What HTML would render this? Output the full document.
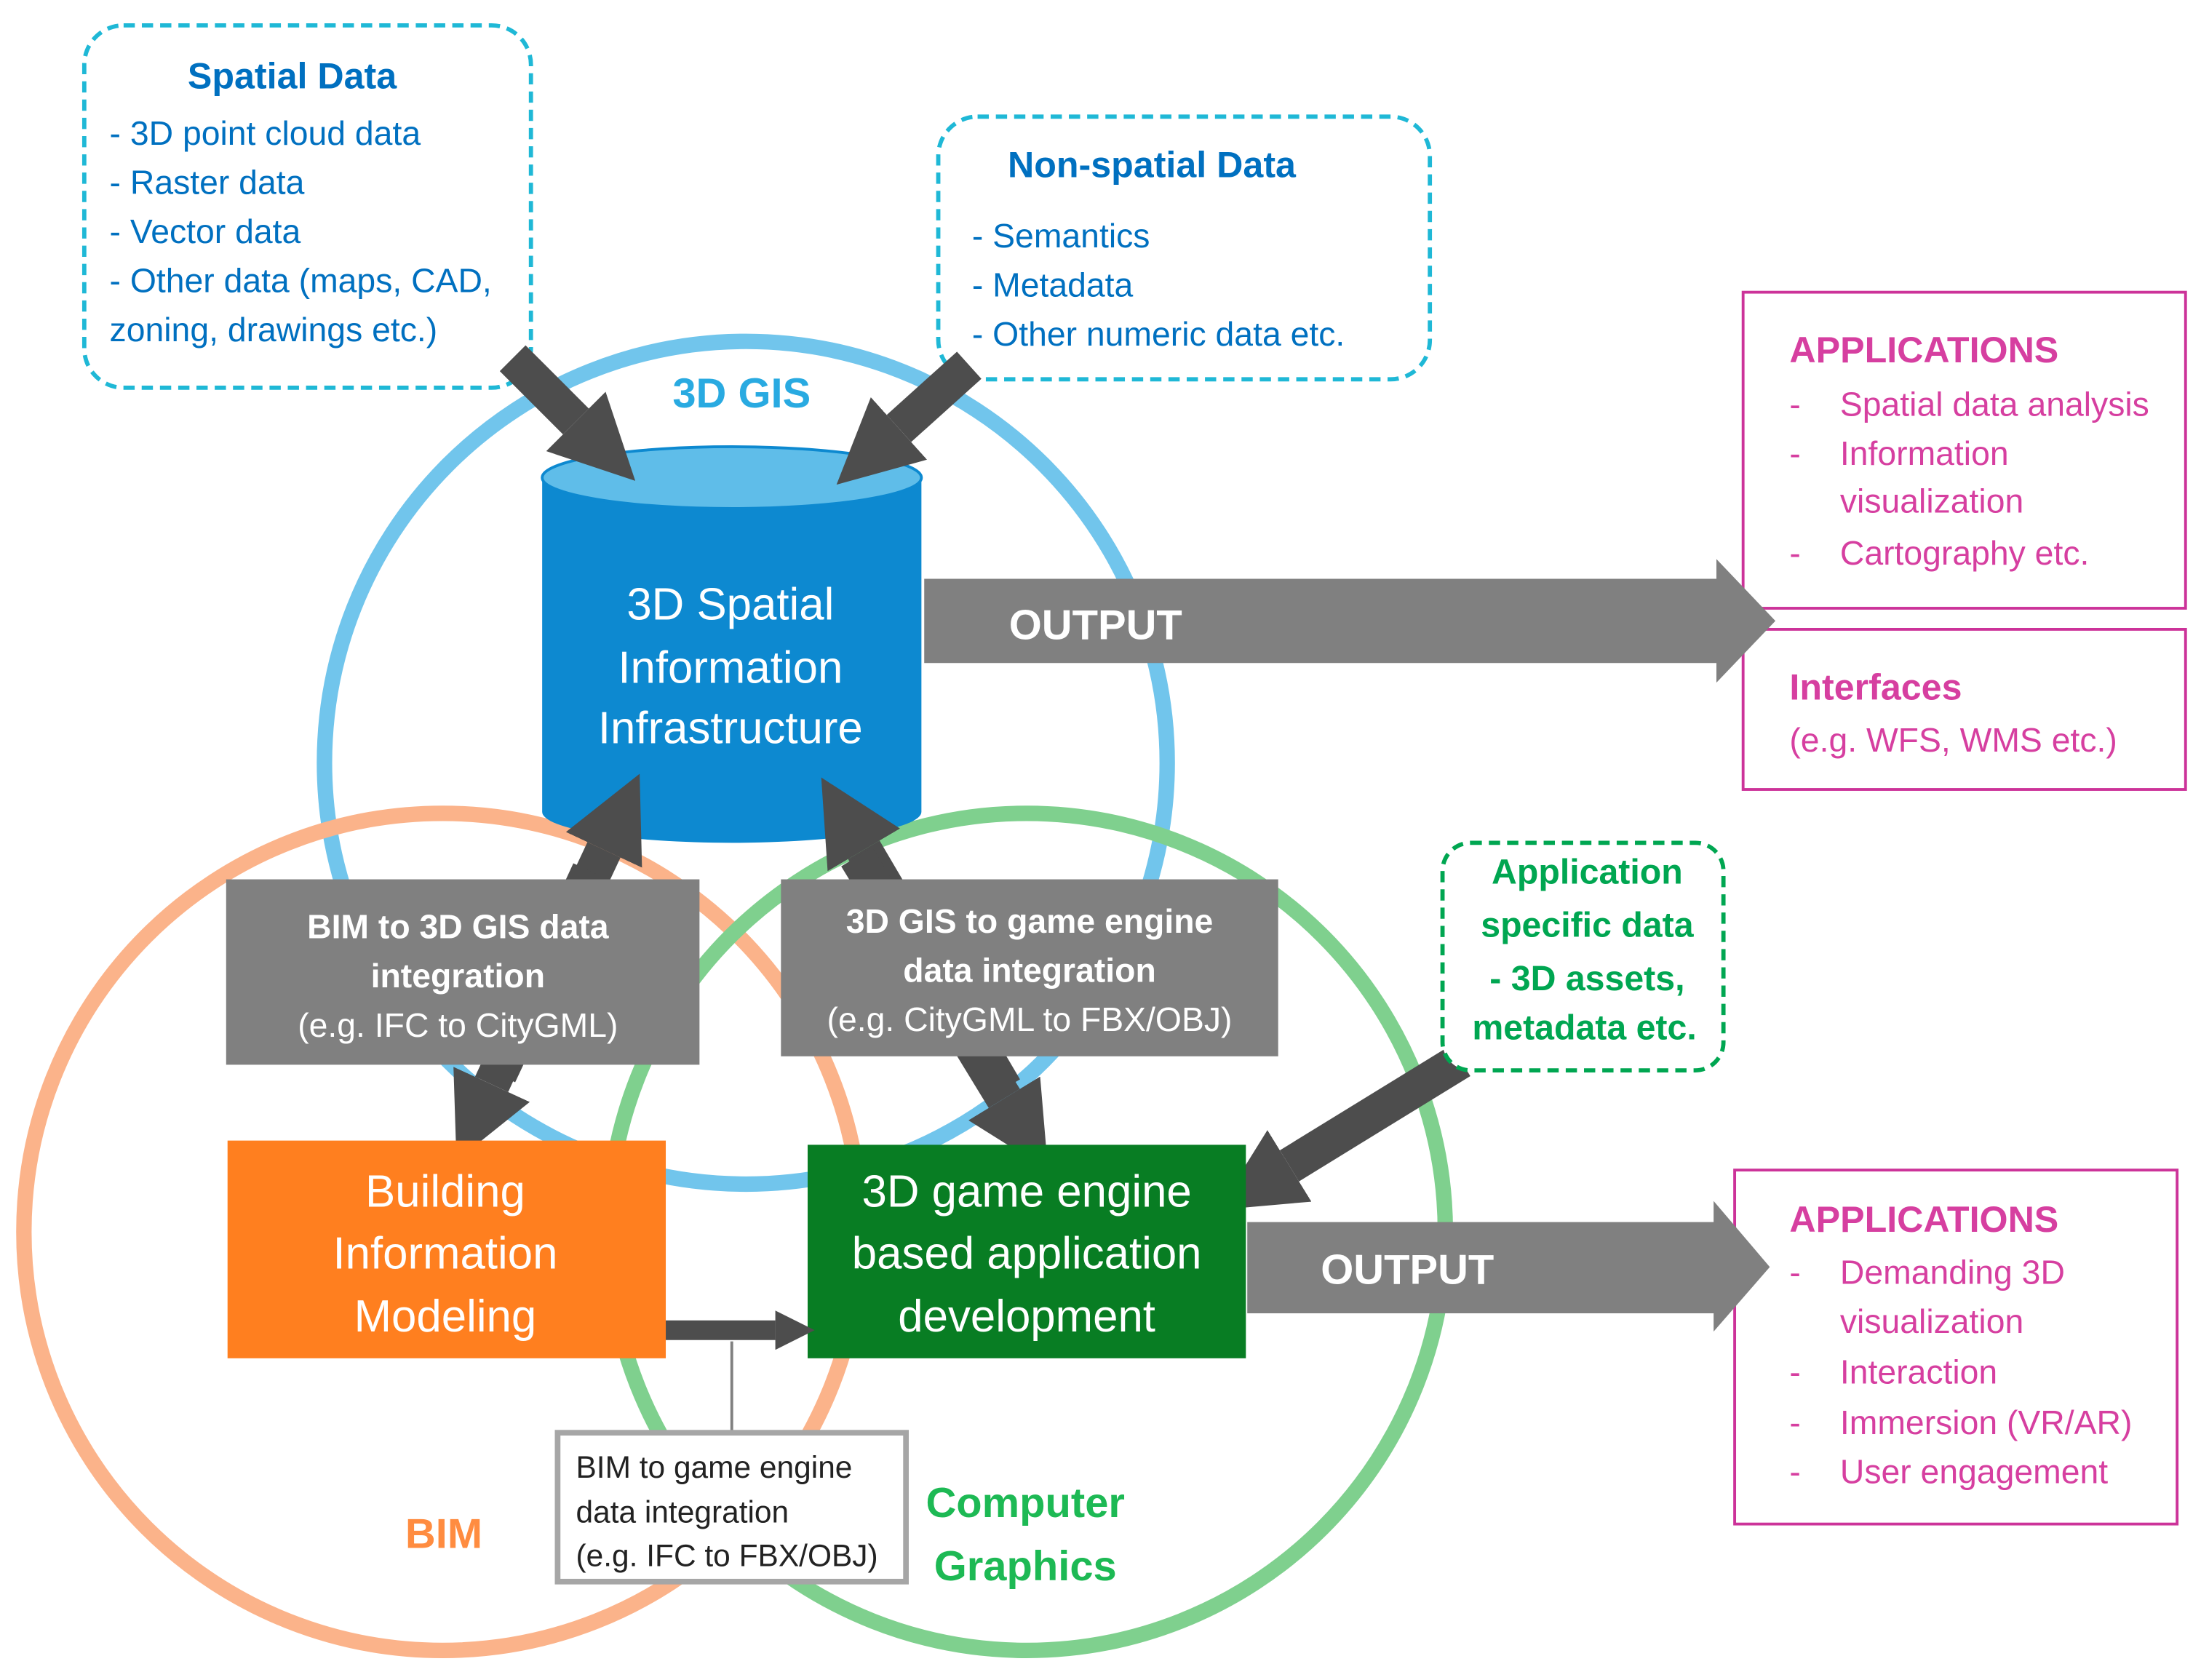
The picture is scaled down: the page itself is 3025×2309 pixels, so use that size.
<!DOCTYPE html>
<html><head><meta charset="utf-8"><style>
html,body{margin:0;padding:0;background:#fff;}
svg{display:block;}
text{font-family:"Liberation Sans",sans-serif;}
</style></head><body>
<svg width="3025" height="2309" viewBox="0 0 1567 1196" xmlns="http://www.w3.org/2000/svg">
<defs>
<marker id="ah" viewBox="0 0 10 10" refX="0" refY="5" markerWidth="2.3" markerHeight="2.3" orient="auto">
<path d="M0,0 L10,5 L0,10 z" fill="#4d4d4d"/>
</marker>
<marker id="ahs" viewBox="0 0 10 10" refX="0" refY="5" markerWidth="2" markerHeight="2" orient="auto">
<path d="M0,0 L10,5 L0,10 z" fill="#4d4d4d"/>
</marker>
</defs>
<rect width="1567" height="1196" fill="#fff"/>

<circle cx="531" cy="543" r="300" fill="none" stroke="#71c5ec" stroke-width="11"/>
<circle cx="315" cy="877" r="298" fill="none" stroke="#fbb38a" stroke-width="11"/>
<circle cx="731" cy="877" r="298" fill="none" stroke="#7fd08e" stroke-width="11"/>

<rect x="60" y="18" width="318" height="258" rx="28" fill="#fff" stroke="#1fb8d6" stroke-width="3" stroke-dasharray="8,5"/>
<g fill="#0070c0" font-size="24">
<text x="208" y="63" text-anchor="middle" font-weight="bold" font-size="26">Spatial Data</text>
<text x="78" y="103">- 3D point cloud data</text>
<text x="78" y="138">- Raster data</text>
<text x="78" y="173">- Vector data</text>
<text x="78" y="208">- Other data (maps, CAD,</text>
<text x="78" y="243">zoning, drawings etc.)</text>
</g>
<rect x="668" y="83" width="350" height="187" rx="28" fill="#fff" stroke="#1fb8d6" stroke-width="3" stroke-dasharray="8,5"/>
<g fill="#0070c0" font-size="24">
<text x="820" y="126" text-anchor="middle" font-weight="bold" font-size="26">Non-spatial Data</text>
<text x="692" y="176">- Semantics</text>
<text x="692" y="211">- Metadata</text>
<text x="692" y="246">- Other numeric data etc.</text>
</g>

<text x="528" y="290" text-anchor="middle" font-weight="bold" font-size="30" fill="#29aae1">3D GIS</text>

<path d="M386,340 L386,578 A135,22 0 0 0 656,578 L656,340 Z" fill="#0d89d0"/>
<ellipse cx="521" cy="340" rx="135" ry="22" fill="#5fbde9" stroke="#0d89d0" stroke-width="2"/>
<g fill="#fff" font-size="32" text-anchor="middle">
<text x="520" y="441">3D Spatial</text>
<text x="520" y="486">Information</text>
<text x="520" y="529">Infrastructure</text>
</g>

<rect x="1241" y="208" width="315" height="225" fill="none" stroke="#cc3399" stroke-width="2"/>
<rect x="1241" y="448" width="315" height="114" fill="none" stroke="#cc3399" stroke-width="2"/>
<path d="M658,412 L1222,412 L1222,398 L1264,442 L1222,486 L1222,472 L658,472 Z" fill="#808080"/>
<text x="780" y="455" text-anchor="middle" fill="#fff" font-weight="bold" font-size="30">OUTPUT</text>

<g fill="#d63fa0" font-size="24">
<text x="1274" y="258" font-weight="bold" font-size="26">APPLICATIONS</text>
<text x="1274" y="296">-</text><text x="1310" y="296">Spatial data analysis</text>
<text x="1274" y="331">-</text><text x="1310" y="331">Information</text>
<text x="1310" y="365">visualization</text>
<text x="1274" y="402">-</text><text x="1310" y="402">Cartography etc.</text>
<text x="1274" y="498" font-weight="bold" font-size="26">Interfaces</text>
<text x="1274" y="535">(e.g. WFS, WMS etc.)</text>
</g>

<g stroke="#4d4d4d" stroke-width="26" fill="none">
<line x1="365" y1="255" x2="410" y2="300" marker-end="url(#ah)"/>
<line x1="690" y1="260" x2="640" y2="305" marker-end="url(#ah)"/>
<line x1="355" y1="765" x2="430" y2="605" marker-end="url(#ah)"/>
<line x1="420" y1="620" x2="350" y2="772" marker-end="url(#ah)"/>
<line x1="715" y1="775" x2="615" y2="605" marker-end="url(#ah)"/>
<line x1="610" y1="610" x2="715" y2="782" marker-end="url(#ah)"/>
<line x1="1040" y1="755" x2="918" y2="830" marker-end="url(#ah)"/>
</g>

<rect x="161" y="626" width="337" height="132" fill="#808080"/>
<g fill="#fff" font-size="24" text-anchor="middle">
<text x="326" y="668" font-weight="bold">BIM to 3D GIS data</text>
<text x="326" y="703" font-weight="bold">integration</text>
<text x="326" y="738">(e.g. IFC to CityGML)</text>
</g>
<rect x="556" y="626" width="354" height="126" fill="#808080"/>
<g fill="#fff" font-size="24" text-anchor="middle">
<text x="733" y="664" font-weight="bold">3D GIS to game engine</text>
<text x="733" y="699" font-weight="bold">data integration</text>
<text x="733" y="734">(e.g. CityGML to FBX/OBJ)</text>
</g>

<rect x="1027" y="600" width="200" height="162" rx="20" fill="#fff" stroke="#00a651" stroke-width="3" stroke-dasharray="8,5"/>
<g fill="#00a651" font-size="25" font-weight="bold" text-anchor="middle">
<text x="1130" y="629">Application</text>
<text x="1130" y="667">specific data</text>
<text x="1130" y="705">-  3D assets,</text>
<text x="1128" y="740">metadata etc.</text>
</g>

<rect x="162" y="812" width="312" height="155" fill="#ff7f1f"/>
<g fill="#fff" font-size="32" text-anchor="middle">
<text x="317" y="859">Building</text>
<text x="317" y="903">Information</text>
<text x="317" y="948">Modeling</text>
</g>
<rect x="575" y="815" width="312" height="152" fill="#087d23"/>
<g fill="#fff" font-size="32" text-anchor="middle">
<text x="731" y="859">3D game engine</text>
<text x="731" y="903">based application</text>
<text x="731" y="948">development</text>
</g>

<rect x="1235" y="833" width="315" height="252" fill="none" stroke="#cc3399" stroke-width="2"/>
<path d="M888,870 L1220,870 L1220,855 L1260,902 L1220,948 L1220,935 L888,935 Z" fill="#808080"/>
<text x="1002" y="914" text-anchor="middle" fill="#fff" font-weight="bold" font-size="30">OUTPUT</text>

<g fill="#d63fa0" font-size="24">
<text x="1274" y="877" font-weight="bold" font-size="26">APPLICATIONS</text>
<text x="1274" y="914">-</text><text x="1310" y="914">Demanding 3D</text>
<text x="1310" y="949">visualization</text>
<text x="1274" y="985">-</text><text x="1310" y="985">Interaction</text>
<text x="1274" y="1021">-</text><text x="1310" y="1021">Immersion (VR/AR)</text>
<text x="1274" y="1056">-</text><text x="1310" y="1056">User engagement</text>
</g>

<line x1="474" y1="947" x2="552" y2="947" stroke="#4d4d4d" stroke-width="14" marker-end="url(#ahs)"/>
<line x1="521" y1="955" x2="521" y2="1020" stroke="#808080" stroke-width="2"/>
<rect x="397" y="1020" width="248" height="106" fill="#fff" stroke="#a6a6a6" stroke-width="4"/>
<g fill="#222" font-size="22">
<text x="410" y="1052">BIM to game engine</text>
<text x="410" y="1084">data integration</text>
<text x="410" y="1115">(e.g. IFC to FBX/OBJ)</text>
</g>

<text x="730" y="1080" text-anchor="middle" fill="#1db954" font-weight="bold" font-size="30">Computer</text>
<text x="730" y="1125" text-anchor="middle" fill="#1db954" font-weight="bold" font-size="30">Graphics</text>
<text x="316" y="1102" text-anchor="middle" fill="#ff8c40" font-weight="bold" font-size="30">BIM</text>
</svg>
</body></html>
